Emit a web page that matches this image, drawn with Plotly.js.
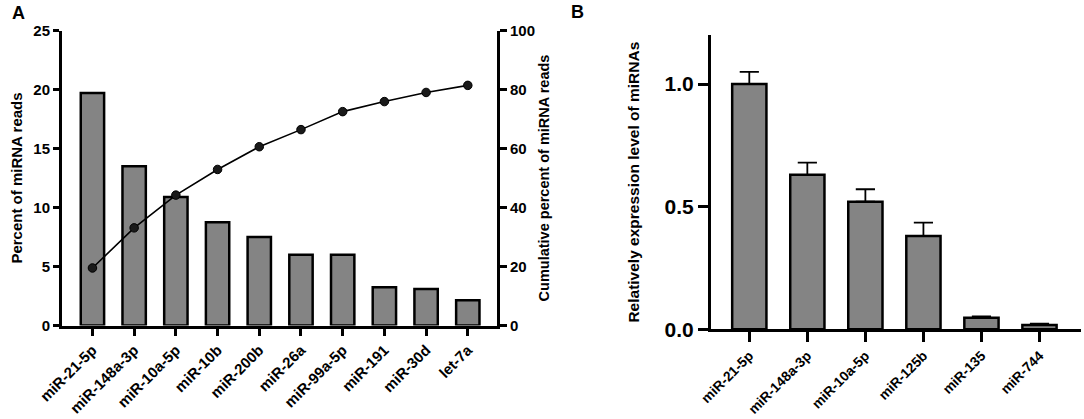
<!DOCTYPE html>
<html>
<head>
<meta charset="utf-8">
<script src="https://cdn.plot.ly/plotly-3.0.1.min.js"></script>
<style>html,body{margin:0;padding:0;background:#fff;}#chart{width:1084px;height:419px;}</style>
</head>
<body>
<div id="chart"></div>
<script>
// Panel A data
const catsA = ['miR-21-5p','miR-148a-3p','miR-10a-5p','miR-10b','miR-200b','miR-26a','miR-99a-5p','miR-191','miR-30d','let-7a'];
const percentA = [19.7, 13.5, 10.9, 8.75, 7.5, 6.0, 6.0, 3.25, 3.1, 2.15];
const cumulativeA = [19.5, 33.1, 44.2, 52.9, 60.6, 66.4, 72.5, 75.9, 79.0, 81.4];
const yTicksA = [0, 5, 10, 15, 20, 25];
const y2TicksA = [0, 20, 40, 60, 80, 100];

// Panel B data
const catsB = ['miR-21-5p','miR-148a-3p','miR-10a-5p','miR-125b','miR-135','miR-744'];
const exprB = [1.0, 0.63, 0.52, 0.38, 0.047, 0.018];
const errB = [0.05, 0.05, 0.051, 0.055, 0.006, 0.005];
const yTicksB = [0, 0.5, 1.0];
const yTickTextB = ['0.0', '0.5', '1.0'];

const FONT = 'Liberation Sans, Arial, sans-serif';
const BAR = '#848484';
const W = 1084, H = 419;
const fx = p => p / W, fy = p => 1 - p / H;

const traces = [
  {type:'bar', x: catsA, y: percentA, xaxis:'x', yaxis:'y', width:0.56,
   marker:{color:BAR, line:{color:'#000', width:2.5}}, hoverinfo:'none'},
  {type:'scatter', mode:'lines+markers', x: catsA, y: cumulativeA, xaxis:'x', yaxis:'y2',
   line:{color:'#000', width:1.6}, marker:{color:'#1a1a1a', size:8.5, line:{color:'#000', width:1}}, hoverinfo:'none'},
  {type:'bar', x: catsB, y: exprB, xaxis:'x2', yaxis:'y3', width:0.59,
   marker:{color:BAR, line:{color:'#000', width:2.5}},
   error_y:{type:'data', symmetric:false, array: errB, arrayminus: catsB.map(()=>0), color:'#000', thickness:1.8, width:9.6},
   hoverinfo:'none'}
];

const axisCommon = {showline:true, linecolor:'#000', linewidth:3, showgrid:false, zeroline:false,
  ticks:'outside', tickcolor:'#000', tickwidth:3, automargin:false, fixedrange:true};

const layout = {
  width: W, height: H, autosize:false,
  margin:{l:0, r:0, t:0, b:0},
  paper_bgcolor:'#fff', plot_bgcolor:'rgba(0,0,0,0)',
  showlegend:false,
  font:{family:FONT, color:'#000'},
  xaxis: Object.assign({}, axisCommon, {
    domain:[fx(62), fx(497)], anchor:'y', range:[-0.73, 9.70], type:'category',
    ticklen:7, tickangle:-45, tickfont:{family:FONT, size:15, color:'#000', weight:'bold'}
  }),
  yaxis: Object.assign({}, axisCommon, {
    domain:[fy(325.5), fy(30.5)], anchor:'x', range:[0, 25], tickvals:yTicksA, ticklen:6,
    tickfont:{family:FONT, size:15, color:'#000', weight:'bold'},
    title:{text:'Percent of miRNA reads', font:{family:FONT, size:15, color:'#000', weight:'bold'}, standoff:8}
  }),
  yaxis2: Object.assign({}, axisCommon, {
    domain:[fy(325.5), fy(30.5)], anchor:'x', overlaying:'y', side:'right', range:[0, 100], tickvals:y2TicksA, ticklen:7,
    tickfont:{family:FONT, size:15, color:'#000', weight:'bold'},
    title:{text:'Cumulative percent of miRNA reads', font:{family:FONT, size:14.5, color:'#000', weight:'bold'}, standoff:5}
  }),
  xaxis2: Object.assign({}, axisCommon, {
    domain:[fx(711), fx(1080.7)], anchor:'y3', range:[-0.66, 5.71], type:'category',
    ticklen:10, tickangle:-45, tickfont:{family:FONT, size:13.8, color:'#000', weight:'bold'}
  }),
  yaxis3: Object.assign({}, axisCommon, {
    domain:[fy(329.3), fy(35)], anchor:'x2', range:[0, 1.2], tickvals:yTicksB, ticktext:yTickTextB, ticklen:10,
    tickfont:{family:FONT, size:21, color:'#000', weight:'bold'},
    title:{text:'Relatively expression level of miRNAs', font:{family:FONT, size:15.5, color:'#000', weight:'bold'}, standoff:22}
  }),
  annotations:[
    {text:'A', x:fx(10), y:fy(13), xref:'paper', yref:'paper', xanchor:'left', yanchor:'middle', showarrow:false,
     font:{family:FONT, size:18, color:'#000', weight:'bold'}},
    {text:'B', x:fx(569), y:fy(12), xref:'paper', yref:'paper', xanchor:'left', yanchor:'middle', showarrow:false,
     font:{family:FONT, size:18, color:'#000', weight:'bold'}}
  ]
};

Plotly.newPlot('chart', traces, layout, {staticPlot:true, displayModeBar:false});
</script>
</body>
</html>
